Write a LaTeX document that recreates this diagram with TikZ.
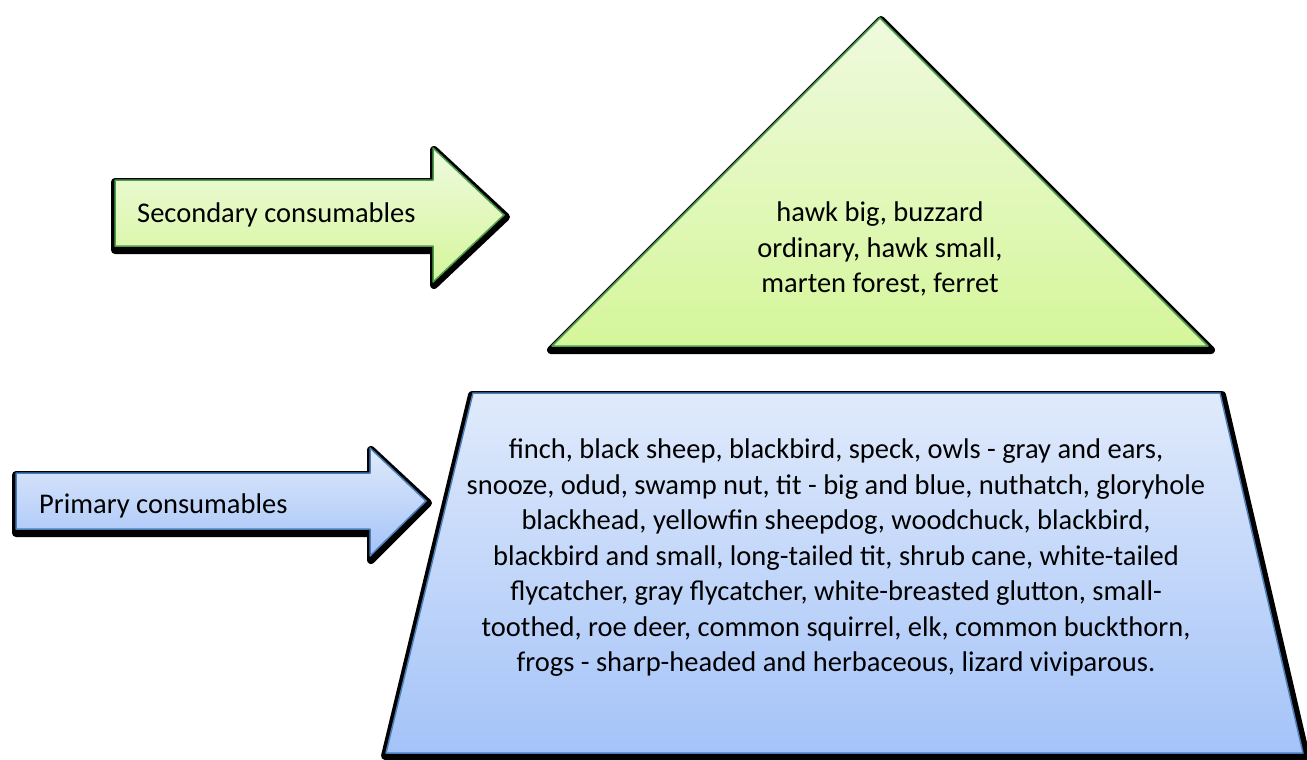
\documentclass[tikz,border=0pt]{standalone}
\usepackage{fontspec}
\setmainfont{Carlito}
\begin{document}
\begin{tikzpicture}[x=1pt,y=-1pt,
  shadowline/.style={draw=black,line width=8pt,line join=round,fill=black},
  greenshape/.style={draw=green!45!black!70,line width=1.5pt,line join=round,shading=axis,top color=green1,bottom color=green2},
  blueshape/.style={draw=blue3,line width=1.5pt,line join=round,shading=axis,top color=blue1,bottom color=blue2},
  lbl/.style={font=\fontsize{28.5}{35.5}\selectfont,text=black,inner sep=0pt,align=center}]
\definecolor{green1}{HTML}{EFFADF}
\definecolor{green2}{HTML}{D5F69A}
\definecolor{blue1}{HTML}{E0EAFB}
\definecolor{blue2}{HTML}{A4C3F8}
\definecolor{blue3}{HTML}{4A7EBB}
\useasboundingbox (0,0) rectangle (1307,760);
\fill[white] (0,0) rectangle (1307,760);
% triangle
\draw[shadowline] (881,20) -- (1211,350) -- (551,350) -- cycle;
\path[greenshape] (880,18) -- (1208,346) -- (552,346) -- cycle;
\node[lbl] (top) at (880,249) {hawk big, buzzard\\ordinary, hawk small,\\marten forest, ferret};
% trapezoid
\draw[shadowline] (472,395) -- (1222,395) -- (1306,756) -- (385,756) -- cycle;
\path[blueshape] (473,393) -- (1220,393) -- (1303,753) -- (386,753) -- cycle;
\node[lbl] (bottom) at (836,558) {finch, black sheep, blackbird, speck, owls - gray and ears,\\snooze, odud, swamp nut, tit - big and blue, nuthatch, gloryhole\\blackhead, yellowfin sheepdog, woodchuck, blackbird,\\blackbird and small, long-tailed tit, shrub cane, white-tailed\\flycatcher, gray flycatcher, white-breasted glutton, small-\\toothed, roe deer, common squirrel, elk, common buckthorn,\\frogs - sharp-headed and herbaceous, lizard viviparous.};
% secondary arrow
\draw[shadowline] (115,182) -- (434,182) -- (434,150) -- (506,217) -- (434,285) -- (434,250) -- (115,250) -- cycle;
\path[greenshape] (115,180) -- (433,180) -- (433,148) -- (504,215) -- (433,282) -- (433,246) -- (115,246) -- cycle;
\node[lbl,anchor=base west] (sec) at (137,222) {Secondary consumables};
% primary arrow
\draw[shadowline] (16,475) -- (371,475) -- (371,450) -- (428,503) -- (371,560) -- (371,533) -- (16,533) -- cycle;
\path[blueshape] (16,473) -- (370,473) -- (370,448) -- (426,501) -- (370,556) -- (370,529) -- (16,529) -- cycle;
\node[lbl,anchor=base west] (pri) at (39,513) {Primary consumables};
\end{tikzpicture}
\end{document}
